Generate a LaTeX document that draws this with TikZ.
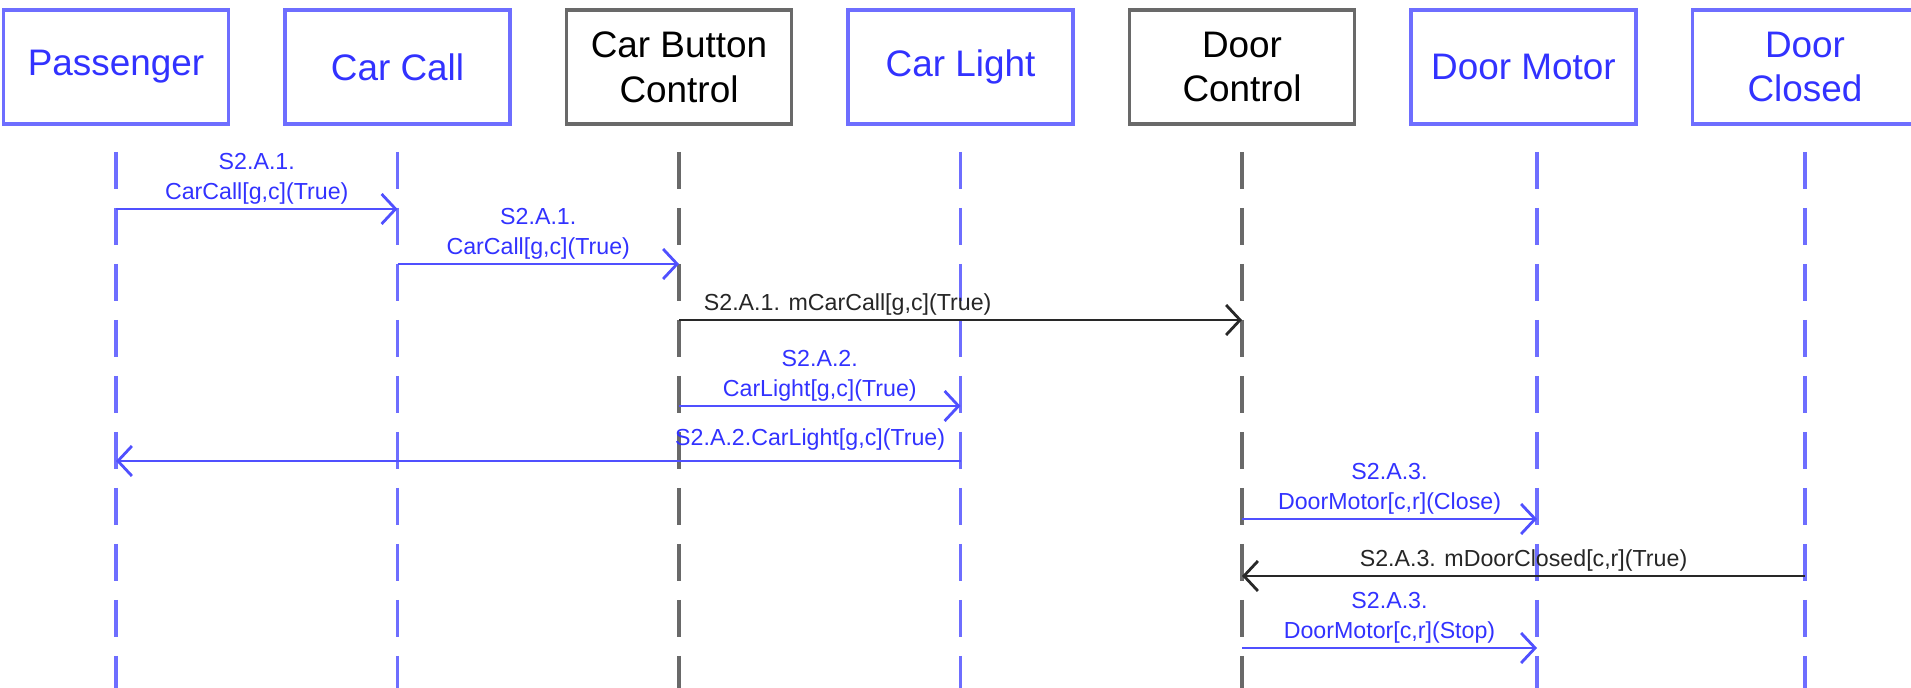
\documentclass[tikz,border=0pt]{standalone}
\usepackage{fontspec}
\setmainfont{Liberation Sans}
\usepackage{tikz}
\usetikzlibrary{positioning, arrows.meta}
\definecolor{kblau}{RGB}{110,110,255}
\definecolor{tblau}{RGB}{50,50,255}
\definecolor{pblau}{RGB}{80,80,255}
\definecolor{kgrau}{RGB}{105,105,105}
\definecolor{pschwarz}{RGB}{40,40,40}
\tikzstyle{bkasten} = [rectangle, draw=kblau, text=tblau, line width=0.9pt, minimum width=2.25cm, minimum height=1.14cm, align=center, outer sep=0pt, font=\fontsize{10.5}{12.8}\selectfont]
\tikzstyle{gkasten} = [bkasten, draw=kgrau, text=black]
\tikzstyle{bleben} = [draw=kblau, line width=0.9pt, dash pattern=on 0.37cm off 0.19cm]
\tikzstyle{gleben} = [bleben, draw=kgrau]
\tikzstyle{arrow} = [-{Straight Barb[length=0.14cm,width=0.30cm]}, line width=0.8pt]
\tikzstyle{barrow} = [arrow, draw=pblau]
\tikzstyle{sarrow} = [arrow, draw=pschwarz]
\tikzstyle{btext} = [text=tblau, align=center, inner sep=1pt, font=\fontsize{6.6}{8.5}\selectfont]
\tikzstyle{stext} = [btext, text=black!85]

\begin{document}
\begin{tikzpicture}[node distance=0.565cm]
    	\useasboundingbox (0,0) rectangle (19.11,-6.88);
    	\clip (0,0) rectangle (19.11,-6.88);
    	
    	\node [bkasten] (pas) at (1.16,-0.67) {Passenger};
    	\node [bkasten, right=of pas] (cc) {Car Call};
    	\node [gkasten, right=of cc] (cbc) {Car Button\\Control};
    	\node [bkasten, right=of cbc] (cl) {Car Light};
    	\node [gkasten, right=of cl] (dc) {Door\\Control};
    	\node [bkasten, right=of dc] (dm) {Door Motor};
    	\node [bkasten, right=of dm] (dcl) {Door\\Closed};
    	
    	% Lebenslinien
    	\coordinate [below=0.28cm of pas] (l1);
    	\coordinate [below=0.28cm of cc] (l2);
    	\coordinate [below=0.28cm of cbc] (l3);
    	\coordinate [below=0.28cm of cl] (l4);
    	\coordinate [below=0.28cm of dc] (l5);
    	\coordinate [below=0.28cm of dm, xshift=0.135cm] (l6);
    	\coordinate [below=0.28cm of dcl] (l7);
    	\coordinate (unten) at (0,-6.88);
    	
    	\draw[bleben] (l1) -- (l1 |- unten);
    	\draw[bleben] (l2) -- (l2 |- unten);
    	\draw[gleben] (l3) -- (l3 |- unten);
    	\draw[bleben] (l4) -- (l4 |- unten);
    	\draw[gleben] (l5) -- (l5 |- unten);
    	\draw[bleben] (l6) -- (l6 |- unten);
    	\draw[bleben] (l7) -- (l7 |- unten);
    	
    	% Nachrichten
    	\coordinate (m1) at (0,-2.09);
    	\coordinate (m2) at (0,-2.64);
    	\coordinate (m3) at (0,-3.20);
    	\coordinate (m4) at (0,-4.06);
    	\coordinate (m5) at (0,-4.61);
    	\coordinate (m6) at (0,-5.19);
    	\coordinate (m7) at (0,-5.76);
    	\coordinate (m8) at (0,-6.48);
    	
    	\draw[barrow] (l1 |- m1) -- node[btext, above] {S2.A.1.\\CarCall[g,c](True)} (l2 |- m1);
    	\draw[barrow] (l2 |- m2) -- node[btext, above] {S2.A.1.\\CarCall[g,c](True)} (l3 |- m2);
    	\draw[sarrow] (l3 |- m3) -- node[stext, above right, at start, xshift=0.2cm] {S2.A.1. mCarCall[g,c](True)} (l5 |- m3);
    	\draw[barrow] (l3 |- m4) -- node[btext, above] {S2.A.2.\\CarLight[g,c](True)} (l4 |- m4);
    	\draw[barrow] (l4 |- m5) -- node[btext, above left, at start, xshift=-0.105cm, yshift=0.055cm] {S2.A.2.CarLight[g,c](True)} (l1 |- m5);
    	\draw[barrow] (l5 |- m6) -- node[btext, above] {S2.A.3.\\DoorMotor[c,r](Close)} (l6 |- m6);
    	\draw[sarrow] (l7 |- m7) -- node[stext, above] {S2.A.3. mDoorClosed[c,r](True)} (l5 |- m7);
    	\draw[barrow] (l5 |- m8) -- node[btext, above] {S2.A.3.\\DoorMotor[c,r](Stop)} (l6 |- m8);
    	
\end{tikzpicture}
\end{document}
